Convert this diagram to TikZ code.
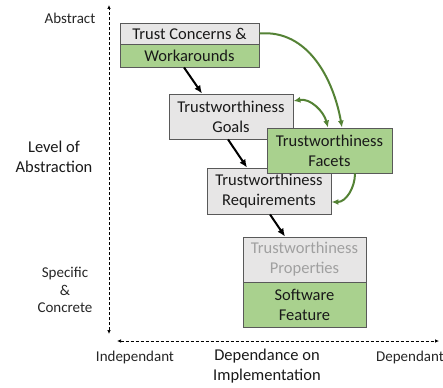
\documentclass[tikz,border=0pt]{standalone}
\usepackage{fontspec}
\setmainfont{Carlito}
\usepackage{tikz}
\usetikzlibrary{arrows.meta,positioning}
\definecolor{boxgray}{HTML}{E7E6E6}
\definecolor{boxgreen}{HTML}{A9D18E}
\definecolor{linkgreen}{HTML}{548235}
\definecolor{edgegray}{HTML}{595959}
\definecolor{fadedtext}{HTML}{A0A0A0}
\tikzset{
  level/.style={draw=edgegray,line width=0.9pt,inner sep=0pt,align=center,
    font=\fontsize{16.5}{20}\selectfont,text=black!90},
  graybox/.style={level,fill=boxgray},
  greenbox/.style={level,fill=boxgreen},
  axislabel/.style={align=center,font=\fontsize{15}{17.5}\selectfont,text=black!85},
  axistitle/.style={align=center,font=\fontsize{16.5}{20}\selectfont,text=black!90},
  axis/.style={line width=0.7pt,dash pattern=on 3pt off 2pt,{Latex[length=4pt,width=3.5pt]}-{Latex[length=4pt,width=3.5pt]}},
  flow/.style={line width=2pt,-{Latex[length=8pt,width=7pt]}},
  link/.style={line width=2pt,linkgreen,-{Latex[length=7pt,width=6pt]}},
}

\begin{document}
\begin{tikzpicture}[x=1pt,y=-1pt]
      \useasboundingbox (0,0) rectangle (443,387);

      % axes
      \coordinate (vtop) at (109,5);
      \coordinate (vbot) at (109,334);
      \coordinate (hleft) at (117,341);
      \coordinate (hright) at (439,341);
      \draw[axis] (vbot) -- (vtop);
      \draw[axis] (hleft) -- (hright);

      \node[axislabel] (abstract) at (70,18) {Abstract};
      \node[axistitle] (levels) at (54,157) {Level of\\Abstraction};
      \node[axislabel] (concrete) at (65,290) {Specific\\\&\\Concrete};
      \node[axislabel] (indep) at (135,357) {Independant};
      \node[axislabel] (dep) at (410,357) {Dependant};
      \node[axistitle] (impl) at (267,366) {Dependance on\\Implementation};

      % boxes
      \node[graybox,minimum width=139pt,minimum height=21pt] (concerns) at (189.5,33.5) {Trust Concerns \&};
      \node[greenbox,minimum width=139pt,minimum height=23pt] (workarounds) at (189.5,55.5) {Workarounds};
      \node[graybox,minimum width=124pt,minimum height=45pt] (goals) at (231,116.5) {Trustworthiness\\Goals};
      \node[graybox,minimum width=124pt,minimum height=46pt] (reqs) at (269,191) {Trustworthiness\\Requirements};
      \node[greenbox,minimum width=125pt,minimum height=45pt] (facets) at (329.5,150.5) {Trustworthiness\\Facets};
      \node[graybox,minimum width=123pt,minimum height=45pt,text=fadedtext] (props) at (304.5,259.5) {Trustworthiness\\Properties};
      \node[greenbox,minimum width=123pt,minimum height=45pt] (feature) at (304.5,304.5) {Software\\Feature};

      % refinement chain
      \draw[flow] (workarounds.south -| 184,0) -- (goals.north -| 202,0);
      \draw[flow] (goals.south -| 228,0) -- (reqs.north -| 247,0);
      \draw[flow] (reqs.south -| 270,0) -- (props.north -| 285,0);

      % facet links
      \draw[link] (concerns.east) to[out=5,in=100] (facets.north -| 342,0);
      \draw[link,{Latex[length=7pt,width=6pt]}-{Latex[length=7pt,width=6pt]}] (goals.north east |- 0,101) to[out=10,in=105] (facets.north -| 328,0);
      \draw[link] (facets.south -| 355,0) to[out=-90,in=0] (reqs.east |- 0,202);
    \end{tikzpicture}
\end{document}
